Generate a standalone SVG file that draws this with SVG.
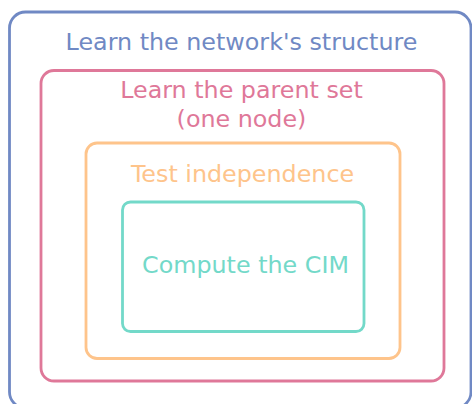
<svg xmlns="http://www.w3.org/2000/svg" width="472" height="404" viewBox="0 0 472 404">
  <style>
    .box { fill: none; stroke-width: 2.8; }
    .lbl { font-family: "DejaVu Sans", "Liberation Sans", sans-serif; font-size: 23.8px; text-anchor: middle; }
    .blue { stroke: #7089c4; }
    .pink { stroke: #df7899; }
    .orange { stroke: #fec48b; }
    .teal { stroke: #73d9c9; }
  </style>
  <rect width="472" height="404" fill="#ffffff"/>
  <!-- Nested process scopes, outermost first -->
  <g id="network-structure">
    <rect class="box blue" x="9.5" y="12" width="461.5" height="396" rx="16"/>
    <text class="lbl" x="241.5" y="49.5" fill="#7089c4">Learn the network's structure</text>
  </g>
  <g id="parent-set">
    <rect class="box pink" x="41" y="70.5" width="403" height="310.5" rx="13"/>
    <text class="lbl" x="241.5" y="98" fill="#df7899">Learn the parent set</text>
    <text class="lbl" x="241.5" y="127" fill="#df7899">(one node)</text>
  </g>
  <g id="test-independence">
    <rect class="box orange" x="86" y="143" width="314" height="215.5" rx="11"/>
    <text class="lbl" x="242.5" y="182" fill="#fec48b">Test independence</text>
  </g>
  <g id="compute-cim">
    <rect class="box teal" x="122.5" y="202" width="241.5" height="129.5" rx="8"/>
    <text class="lbl" x="245.5" y="272.5" fill="#73d9c9">Compute the CIM</text>
  </g>
  <g id="connectors"/>
</svg>
